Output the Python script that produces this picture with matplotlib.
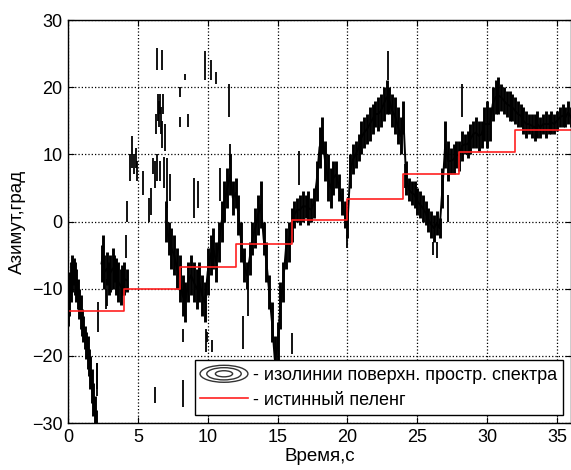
import matplotlib
matplotlib.use('Agg')
import matplotlib.pyplot as plt
from matplotlib.patches import Ellipse
from matplotlib.legend_handler import HandlerBase

plt.rcParams['font.family'] = ['Liberation Sans', 'DejaVu Sans']

# истинный пеленг (ступеньки)
bearing_t = [0, 4, 8, 12, 16, 20, 24, 28, 32, 36]
bearing_v = [-13.3, -10.0, -6.7, -3.3, 0.2, 3.4, 7.0, 10.3, 13.6, 13.6]

# плотная часть изолиний: время, нижняя и верхняя граница
trace_t = [0.0, 0.1, 0.2, 0.3, 0.4, 0.5, 0.6, 0.7, 0.8, 0.9, 1.0, 1.1, 1.2, 1.3, 1.4,
           1.5, 1.6, 1.7, 1.8, 1.9, 2.0,
           2.4, 2.5, 2.6, 2.8, 2.9, 3.0, 3.2, 3.3, 3.4, 3.6, 3.8, 3.9, 4.0, 4.2,
           7.0, 7.2, 7.4, 7.6, 7.8, 8.0, 8.2, 8.4, 8.6, 8.8, 9.0, 9.2, 9.4, 9.6, 9.8,
           10.0, 10.2, 10.4, 10.6, 10.8, 11.0, 11.2, 11.4, 11.6, 11.8, 12.0, 12.2, 12.4,
           12.6, 12.8, 13.0, 13.2, 13.4, 13.6, 13.8, 14.0, 14.2, 14.4, 14.6, 14.8, 15.0,
           15.2, 15.4, 15.6, 15.8, 16.0, 16.2, 16.4, 16.6, 16.8, 17.0, 17.2, 17.4, 17.6,
           17.8, 18.0, 18.2, 18.4, 18.6, 18.8, 19.0, 19.2, 19.4, 19.6, 19.8, 20.0, 20.2,
           20.4, 20.6, 20.8, 21.0, 21.2, 21.4, 21.6, 21.8, 22.0, 22.2, 22.4, 22.6, 22.8,
           23.0, 23.2, 23.4, 23.6, 23.8, 24.0, 24.2, 24.4, 24.6, 24.8, 25.0, 25.2, 25.4,
           25.6, 25.8, 26.0, 26.2, 26.4, 26.6, 26.8, 27.0, 27.2, 27.4, 27.6, 27.8, 28.0,
           28.2, 28.4, 28.6, 28.8, 29.0, 29.2, 29.4, 29.6, 29.8, 30.0, 30.2, 30.4, 30.6,
           30.8, 31.0, 31.2, 31.4, 31.6, 31.8, 32.0, 32.2, 32.4, 32.6, 32.8, 33.0, 33.2,
           33.4, 33.6, 33.8, 34.0, 34.2, 34.4, 34.6, 34.8, 35.0, 35.2, 35.4, 35.6, 35.8, 36.0]
trace_lo = [-15.5, -14, -12, -10.5, -9.5, -11, -12, -13, -14.5, -16, -17, -18, -19, -20.5, -22,
            -23, -25, -27, -29, -30, -30,
            -9, -8, -10, -9.5, -11, -10.5, -10, -9, -11, -12, -12.5, -11, -11, -10.5,
            -3, -5, -7, -8, -10, -12, -14, -15, -12, -11, -12, -13, -12, -14, -15,
            -11, -8, -7, -9, -6, -3, 0, 2, 4, 1, 2, -2, -6,
            -9, -10, -8, -5, -4, -2, -1, -5, -9, -13, -18, -24, -22,
            -16, -12, -7, -6, -3, -1, 0, -0.5, 0, 0.5, -0.5, 0, 0.5,
            3, 8, 10, 6, 3, 2, 4, 5, 3, 1, -1, -2.5, 5,
            7, 8, 9, 10, 11, 11.5, 12, 13, 14, 13.5, 14, 15, 16,
            16, 14, 13, 11.5, 10, 13, 4, 3, 2.5, 2, 1, 0.5, 0,
            -0.5, -1.5, -2.5, -3, -2, -2.5, 2, 8, 6, 7, 7, 8, 7.5,
            9, 10, 9.5, 10, 11, 11, 10.5, 11, 12, 11, 12, 15, 16,
            16, 16.5, 16, 15.5, 15, 15, 14.5, 14, 14, 13, 12.5, 13, 12.5,
            12, 12.5, 12.5, 13, 12.5, 13, 13, 13, 13.5, 14, 14, 14, 14.5, 14]
trace_hi = [-9, -7.5, -6, -5, -5.5, -6, -7, -8.5, -10, -11, -13, -14, -15.5, -16.5, -17,
            -19, -20, -22, -24, -26, -28,
            -3.5, -2, -5, -4.5, -6, -5, -4, -5, -5.5, -6, -7, -6.5, -6, -7,
            3, 0, -1, -2, -4, -5, -8, -9, -6, -5, -6, -7, -6, -8, -9,
            -4, -2, -1, -3, 0, 3, 6, 8, 10, 6, 6.5, 4, 0,
            -4, -6, -3, 0, 2, 4, 6, 0, -3, -8, -12, -17, -15,
            -9, -6, -1, 0, 2, 3, 3.5, 4, 4.5, 4, 4.5, 3.5, 5,
            9, 14, 15.5, 12, 10, 8, 9, 9, 7, 5, 3, 1.5, 10,
            11.5, 12, 13, 15, 15.5, 16, 17, 17.5, 18, 18.5, 19, 20, 21,
            20, 19, 18.5, 17, 15.5, 18, 9, 6.5, 6, 6, 5, 4.5, 4,
            3, 2, 1.5, 1, 1.5, 0.5, 8, 15, 12, 11, 11.5, 12, 12,
            13.5, 13, 13.5, 14.5, 15, 15.5, 15, 15, 17, 18, 17, 20, 21,
            21.5, 20.5, 20, 19.5, 19.5, 19, 18.5, 18, 17.5, 17, 16.5, 16, 16,
            16, 16.5, 15.5, 16, 16.5, 16, 16.5, 16, 16.5, 17, 17.5, 17, 18, 17]

# отдельные штрихи
dash_t = [2.05, 2.1, 2.15, 2.7, 2.8, 4.15, 4.25, 4.45, 4.6, 4.75, 4.85, 4.95, 5.35, 5.8,
          5.95, 6.05, 6.2, 6.2, 6.3, 6.35, 6.4, 6.45, 6.5, 6.55, 6.6, 6.65, 6.7, 6.75,
          6.8, 6.85, 6.95, 7.1, 7.3, 8.0, 8.05, 8.2, 8.25, 8.4, 8.6, 9.0, 9.3, 9.8,
          9.85, 9.95, 10.2, 10.3, 10.6, 10.9, 11.5, 11.6, 12.5, 12.9, 16.0, 16.5,
          20.0, 22.9, 24.1, 26.1, 26.4, 27.2, 28.2]
dash_lo = [-26, -25, -16.5, -13, -12.6, -5.5, 0, 6, 8, 7, 8, 6, 4, 0,
           1, 7, 5, -27, 13, 6, 22.5, 15, 14, 6, 16, 13, 22.5, 11,
           16, 5, 10.5, 2, 3, 14, 18.6, -18, -27.6, 21, 14, 0.5, 2, 21,
           -19.5, -18, 21, -19.5, 20.4, 3, 15.5, 8.5, -19, -14, -19.8, 5.5,
           -4, 21, 5, -5, -5.4, 0, 15.5]
dash_hi = [-21, -21, -12, -10, -8.6, -2, 3, 10, 12.7, 10, 11, 9, 7.5, 3.5,
           5, 9.5, 9, -24.6, 16, 10, 25.8, 19, 18, 9, 19, 17, 25.5, 15,
           19, 9.6, 14.5, 9.5, 7, 15.6, 20, -16, -23.6, 22, 16, 6.5, 6, 25.4,
           -16, -16.5, 24, -17.6, 22.2, 8, 20.4, 11.5, -14, -10, -16.6, 10.5,
           -2, 25.4, 8.5, -3, -3, 4, 20.4]


class IsolineHandler(HandlerBase):
    def create_artists(self, legend, orig_handle, xdescent, ydescent,
                       width, height, fontsize, trans):
        cx = width / 2 - xdescent
        cy = height / 2 - ydescent
        arts = []
        for k in (1.0, 0.72, 0.36):
            e = Ellipse((cx, cy), width * k, height * 1.05 * k, fill=False,
                        edgecolor='#333333', lw=1.0, transform=trans)
            arts.append(e)
        return arts


fig = plt.figure(figsize=(5.71, 4.70), dpi=100)
ax = fig.add_axes([68 / 571, 47 / 470, 503 / 571, 403 / 470])

# середина полосы — чтобы штрихи сливались в сплошной след
mid = [(a + b) / 2 for a, b in zip(trace_lo, trace_hi)]
for i0, i1 in [(0, 21), (21, 35), (35, len(trace_t))]:
    ax.plot(trace_t[i0:i1], mid[i0:i1], color='k', linewidth=1.4)
ax.vlines(trace_t, trace_lo, trace_hi, colors='k', linewidth=2.1)
ax.vlines(dash_t, dash_lo, dash_hi, colors='k', linewidth=1.3)
line, = ax.step(bearing_t, bearing_v, where='post', color='#ff2020', linewidth=1.2)

ax.set_xlim(0, 36)
ax.set_ylim(-30, 30)
ax.set_xticks(range(0, 36, 5))
ax.set_yticks(range(-30, 31, 10))
ax.grid(True, color='k', linestyle=':', linewidth=0.9)
ax.tick_params(direction='in', top=True, right=True, length=4, labelsize=13, pad=4)
for s in ax.spines.values():
    s.set_linewidth(1.0)

ax.set_xlabel('Время,с', fontsize=13.5, labelpad=2)
ax.set_ylabel('Азимут,град', fontsize=13.5, labelpad=4)

iso = Ellipse((0, 0), 1, 1)
leg = ax.legend([iso, line],
                ['- изолинии поверхн. простр. спектра', '- истинный пеленг'],
                handler_map={iso: IsolineHandler()},
                loc='lower right', fontsize=13, frameon=True, fancybox=False,
                edgecolor='k', framealpha=1, handlelength=2.65, handleheight=1.0,
                handletextpad=0.3, borderaxespad=0.45, labelspacing=0.4,
                borderpad=0.3)
leg.get_frame().set_linewidth(1.0)

fig.savefig('out.png', dpi=100)
